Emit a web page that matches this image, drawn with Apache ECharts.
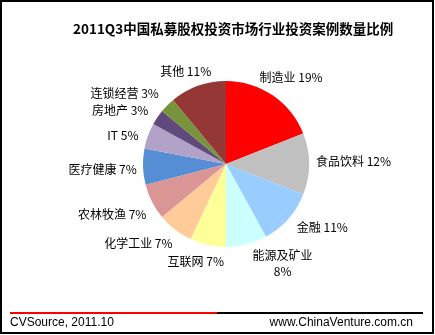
<!DOCTYPE html>
<html><head><meta charset="utf-8">
<script src="https://cdn.jsdelivr.net/npm/echarts@6/dist/echarts.min.js"></script>
<style>html,body{margin:0;padding:0;background:#fff}#c{width:435px;height:335px}</style>
</head><body><div id="c"></div>
<script>
var categories = ['制造业','食品饮料','金融','能源及矿业','互联网','化学工业','农林牧渔','医疗健康','IT','房地产','连锁经营','其他'];
var values = [19,12,11,8,7,7,7,7,5,3,3,11];
var colors = ['#FF0000','#C0C0C0','#99CCFF','#CCFFFF','#FFFF99','#FFCC99','#D99694','#558ED5','#B3A2C7','#604A7B','#77933C','#953735'];
var title = '2011Q3中国私募股权投资市场行业投资案例数量比例';
var source = 'CVSource, 2011.10';
var site = 'www.ChinaVenture.com.cn';

var data = categories.map(function(c,i){
  var sep = (c === '能源及矿业') ? '\n' : ' ';
  return {name:c, value:values[i], itemStyle:{color:colors[i]},
    label:{formatter: c + sep + values[i] + '%'}};
});
var chart = echarts.init(document.getElementById('c'));
var font = '"Noto Sans CJK SC", sans-serif';
var gap = 5;
// small label nudges (style only) to mimic the original label placement
var nudge = [[2,6],[2,-3],[12,-11],[29,-8],[-8,-2],[-17,-12],[-5,-5],[-1,2],[-4,7],[-10,12],[-18,13],[-5,5]];
chart.setOption({
  animation:false,
  title:{text:title, left:68, top:17, textStyle:{fontFamily:font, fontSize:13.5, fontWeight:'bold', color:'#000'}},
  series:[{
    type:'pie', center:[226,164], radius:83, startAngle:90, clockwise:true,
    avoidLabelOverlap:false,
    label:{show:true, position:'outside', fontFamily:font, fontSize:12, color:'#000', lineHeight:16, align:'center'},
    labelLine:{show:false, length:6, length2:0},
    labelLayout:function(p){
      var lay = chart.getModel().getSeriesByIndex(0).getData().getItemLayout(p.dataIndex);
      if(!lay) return {};
      var a = (lay.startAngle + lay.endAngle)/2;
      var ux = Math.cos(a), uy = Math.sin(a);
      var r = p.labelRect;
      var ext = Math.abs(ux)*r.width/2 + Math.abs(uy)*r.height/2;
      var d = lay.r + gap + ext;
      var nd = nudge[p.dataIndex] || [0,0];
      return {x: lay.cx + ux*d + nd[0], y: lay.cy + uy*d + nd[1], align:'center', verticalAlign:'middle'};
    },
    data:data
  }],
  graphic:[
    {type:'rect', shape:{x:1,y:1,width:432,height:332}, style:{fill:'none', stroke:'#000', lineWidth:2}},
    {type:'line', shape:{x1:10,y1:313,x2:217,y2:313}, style:{stroke:'#FF0000', lineWidth:2}},
    {type:'line', shape:{x1:217,y1:313,x2:423,y2:313}, style:{stroke:'#000', lineWidth:2}},
    {type:'text', left:10, top:317, style:{text:source, font:'12px "Liberation Sans", Arial, sans-serif', fill:'#000'}},
    {type:'text', right:22, top:317, style:{text:site, font:'12px "Liberation Sans", Arial, sans-serif', fill:'#000'}}
  ]
});
</script></body></html>
